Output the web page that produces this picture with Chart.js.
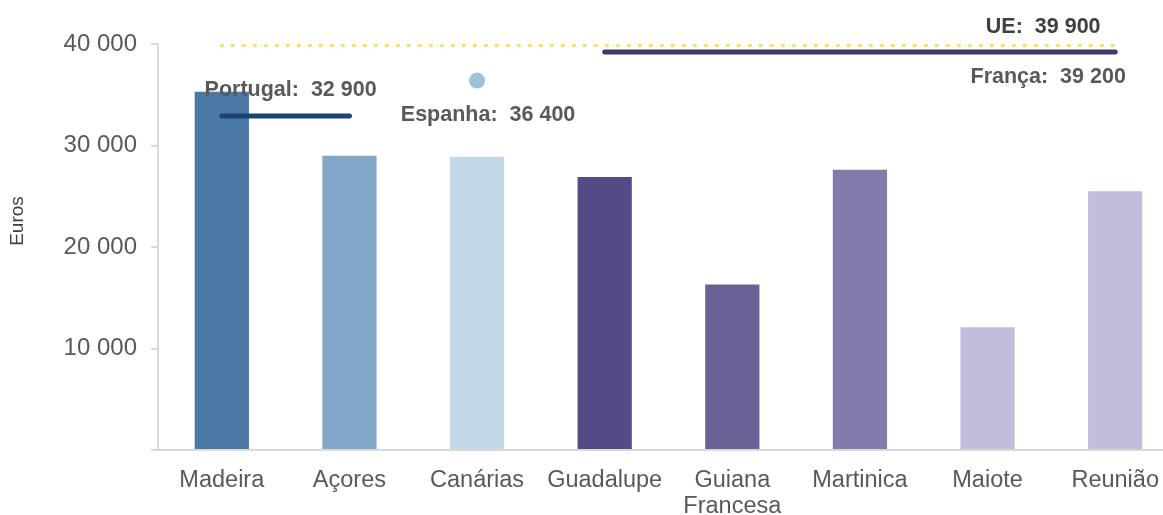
<!DOCTYPE html>
<html><head><meta charset="utf-8">
<script src="https://cdn.jsdelivr.net/npm/chart.js@4/dist/chart.umd.min.js"></script>
<style>
html,body{margin:0;padding:0;background:#fff;overflow:hidden;}
#wrap{width:1187px;height:515px;position:relative;}
</style></head>
<body><div id="wrap"><canvas id="c"></canvas></div>
<script>
const categories = ['Madeira','Açores','Canárias','Guadalupe',['Guiana','Francesa'],'Martinica','Maiote','Reunião'];
const gdpValues = [35300, 29000, 28900, 26900, 16300, 27600, 12100, 25500];
const yTicks = [0, 10000, 20000, 30000, 40000];
const yTitle = 'Euros';
const ueValue = 39900;
const francaValue = 39200;
const portugalValue = 32900;
const espanhaValue = 36400;
const barColors = ['#4a79a5','#80a6c8','#c1d9e6','#534b87','#6c6197','#857bab','#c1bedb','#c1bedb'];

const fmt = v => String(v).replace(/\B(?=(\d{3})+(?!\d))/g, ' ');
const ueData = categories.map(() => ueValue);
const frData = categories.map((c, i) => i >= 3 ? francaValue : null);
const ptData = categories.map((c, i) => i <= 1 ? portugalValue : null);
const esData = categories.map((c, i) => i === 2 ? espanhaValue : null);
const FONT = '"Liberation Sans", Arial, sans-serif';

const labelPlugin = {
  id: 'refLabels',
  afterDatasetsDraw(chart) {
    const ctx = chart.ctx, x = chart.scales.x, y = chart.scales.y;
    ctx.save();
    ctx.font = 'bold 21.5px ' + FONT;
    ctx.textAlign = 'center';
    ctx.textBaseline = 'alphabetic';
    ctx.fillStyle = '#595959';
    ctx.fillText('Portugal:  ' + fmt(portugalValue), (x.getPixelForValue(0) + x.getPixelForValue(1)) / 2 + 5, y.getPixelForValue(portugalValue) - 20);
    ctx.fillText('Espanha:  ' + fmt(espanhaValue), x.getPixelForValue(2) + 11, y.getPixelForValue(espanhaValue) + 40.5);
    ctx.fillText('França:  ' + fmt(francaValue), x.getPixelForValue(7) - 67, y.getPixelForValue(francaValue) + 31);
    ctx.fillStyle = '#404040';
    ctx.fillText('UE:  ' + fmt(ueValue), x.getPixelForValue(7) - 72, y.getPixelForValue(ueValue) - 12);
    // rotated y-axis title
    ctx.translate(17.5, (chart.chartArea.top + chart.chartArea.bottom) / 2 - 26);
    ctx.rotate(-Math.PI / 2);
    ctx.font = '19px ' + FONT;
    ctx.textBaseline = 'middle';
    ctx.fillText(yTitle, 0, 0);
    ctx.restore();
  }
};

new Chart(document.getElementById('c'), {
  type: 'bar',
  data: {
    labels: categories,
    datasets: [
      { type: 'line', data: ueData, borderColor: '#ffdf5f', borderWidth: 4.5, borderDash: [0, 11], borderCapStyle: 'round', pointRadius: 0, fill: false, order: 0 },
      { type: 'line', data: frData, borderColor: '#3f3a6a', borderWidth: 5, borderCapStyle: 'round', pointRadius: 0, fill: false, spanGaps: false, order: 0 },
      { type: 'line', data: ptData, borderColor: '#1b4472', borderWidth: 5, borderCapStyle: 'round', pointRadius: 0, fill: false, spanGaps: false, order: 0 },
      { type: 'line', data: esData, showLine: false, pointRadius: 8, pointBackgroundColor: '#9cc3da', pointBorderWidth: 0, order: 0 },
      { type: 'bar', data: gdpValues, backgroundColor: barColors, barPercentage: 0.425, categoryPercentage: 1, order: 1 }
    ]
  },
  options: {
    responsive: true,
    maintainAspectRatio: false,
    animation: false,
    layout: { padding: { top: 44, left: 0, right: 0, bottom: 0 } },
    plugins: { legend: { display: false }, tooltip: { enabled: false } },
    scales: {
      x: {
        grid: { display: false },
        border: { display: true, color: '#d9d9d9', width: 2 },
        ticks: { color: '#595959', font: { family: FONT, size: 23.5, lineHeight: 1.1 }, padding: 10, maxRotation: 0, autoSkip: false },
        afterFit(s) { s.height = 65; }
      },
      y: {
        min: 0, max: 40000,
        afterBuildTicks(s) { s.ticks = yTicks.map(v => ({ value: v })); },
        grid: { display: true, drawOnChartArea: false, drawTicks: true, tickLength: 7, color: '#d9d9d9', lineWidth: 2 },
        border: { display: true, color: '#d9d9d9', width: 2 },
        ticks: { color: '#595959', font: { family: FONT, size: 24 }, padding: 14, callback: v => v === 0 ? '' : fmt(v) },
        title: { display: false },
        afterFit(s) { s.width = 158; }
      }
    }
  },
  plugins: [labelPlugin]
});
</script>
</body></html>
